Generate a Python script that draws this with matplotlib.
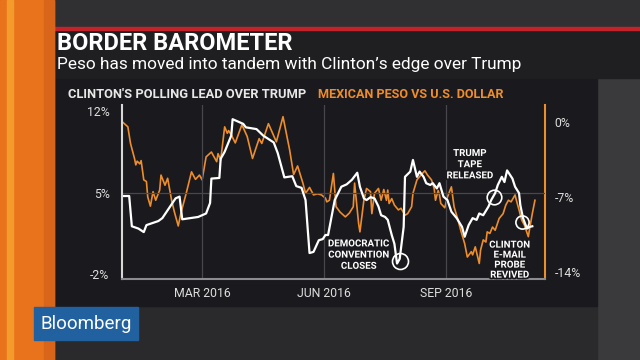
import pandas as pd
from matplotlib import pyplot as plt
from matplotlib import font_manager
from matplotlib import patheffects
from matplotlib.patches import Rectangle

poll_dates = ['2016-01-01', '2016-01-06', '2016-01-08', '2016-01-13', '2016-01-17', '2016-01-19',
              '2016-01-28', '2016-01-31', '2016-02-10', '2016-02-13', '2016-02-15', '2016-02-27',
              '2016-03-04', '2016-03-07', '2016-03-08', '2016-03-14', '2016-03-15', '2016-03-18',
              '2016-03-23', '2016-03-24', '2016-04-01', '2016-04-03', '2016-04-11', '2016-04-16',
              '2016-04-24', '2016-04-27', '2016-05-02', '2016-05-08', '2016-05-11', '2016-05-15',
              '2016-05-18', '2016-05-21', '2016-05-24', '2016-05-28', '2016-05-31', '2016-06-02',
              '2016-06-04', '2016-06-09', '2016-06-14', '2016-06-18', '2016-06-22', '2016-06-26',
              '2016-06-28', '2016-07-01', '2016-07-03', '2016-07-06', '2016-07-09', '2016-07-12',
              '2016-07-14', '2016-07-17', '2016-07-19', '2016-07-22', '2016-07-24', '2016-07-26',
              '2016-07-28', '2016-07-31', '2016-08-01', '2016-08-05', '2016-08-07', '2016-08-10',
              '2016-08-12', '2016-08-15', '2016-08-17', '2016-08-20', '2016-08-22', '2016-08-25',
              '2016-08-27', '2016-08-30', '2016-09-02', '2016-09-05', '2016-09-09', '2016-09-13',
              '2016-09-15', '2016-09-18', '2016-09-21', '2016-09-24', '2016-09-26', '2016-09-29',
              '2016-10-03', '2016-10-05', '2016-10-08', '2016-10-10', '2016-10-13', '2016-10-15',
              '2016-10-17', '2016-10-21', '2016-10-23', '2016-10-26', '2016-10-27', '2016-10-29',
              '2016-11-01', '2016-11-03', '2016-11-05']
poll_lead = [4.7, 4.7, 2.1, 1.9, 1.6, 2.2,
             2.55, 2.8, 4.5, 4.65, 2.7, 2.9,
             3.2, 4.1, 6.2, 6.25, 7.9, 8.5,
             9.9, 11.3, 10.9, 10.6, 10.45, 9.9,
             9.3, 8.4, 6.3, 6.4, 5.55, 5.4,
             4.35, -0.2, -0.1, 0.9, 1.0, 1.35,
             1.35, 4.35, 5.5, 5.7, 6.1, 6.7,
             5.5, 4.5, 4.35, 4.6, 4.5, 3.8,
             3.05, 2.9, 2.65, 1.35, 0.6, -1.1,
             -0.7, 2.05, 6.35, 6.8, 7.8, 6.35,
             6.8, 6.35, 5.8, 5.65, 5.8, 5.35,
             5.8, 4.65, 4.35, 3.35, 2.8, 2.05,
             1.2, 2.2, 2.8, 2.65, 3.2, 3.05,
             3.8, 4.35, 4.95, 5.65, 6.35, 5.9,
             6.9, 6.2, 5.5, 4.95, 3.9, 2.8,
             1.9, 2.05, 2.1]

peso_dates = ['2016-01-01', '2016-01-05', '2016-01-07', '2016-01-10', '2016-01-11', '2016-01-12',
              '2016-01-14', '2016-01-15', '2016-01-17', '2016-01-19', '2016-01-20', '2016-01-22',
              '2016-01-24', '2016-01-26', '2016-01-29', '2016-01-30', '2016-02-02', '2016-02-04',
              '2016-02-07', '2016-02-09', '2016-02-12', '2016-02-14', '2016-02-18', '2016-02-22',
              '2016-02-25', '2016-02-28', '2016-03-01', '2016-03-04', '2016-03-08', '2016-03-10',
              '2016-03-12', '2016-03-13', '2016-03-15', '2016-03-18', '2016-03-20', '2016-03-21',
              '2016-03-23', '2016-03-26', '2016-03-31', '2016-04-04', '2016-04-08', '2016-04-13',
              '2016-04-15', '2016-04-20', '2016-04-26', '2016-05-01', '2016-05-06', '2016-05-09',
              '2016-05-12', '2016-05-16', '2016-05-18', '2016-05-21', '2016-05-24', '2016-05-27',
              '2016-05-30', '2016-06-02', '2016-06-03', '2016-06-05', '2016-06-08', '2016-06-10',
              '2016-06-13', '2016-06-17', '2016-06-20', '2016-06-23', '2016-06-24', '2016-06-27',
              '2016-06-28', '2016-07-01', '2016-07-03', '2016-07-06', '2016-07-07', '2016-07-09',
              '2016-07-12', '2016-07-14', '2016-07-16', '2016-07-18', '2016-07-19', '2016-07-20',
              '2016-07-22', '2016-07-24', '2016-07-27', '2016-07-29', '2016-08-01', '2016-08-03',
              '2016-08-06', '2016-08-07', '2016-08-10', '2016-08-13', '2016-08-16', '2016-08-18',
              '2016-08-21', '2016-08-23', '2016-08-24', '2016-08-26', '2016-08-27', '2016-08-28',
              '2016-08-31', '2016-09-02', '2016-09-05', '2016-09-07', '2016-09-10', '2016-09-12',
              '2016-09-15', '2016-09-17', '2016-09-20', '2016-09-21', '2016-09-23', '2016-09-26',
              '2016-09-27', '2016-09-29', '2016-10-01', '2016-10-02', '2016-10-04', '2016-10-06',
              '2016-10-08', '2016-10-11', '2016-10-14', '2016-10-16', '2016-10-18', '2016-10-20',
              '2016-10-23', '2016-10-24', '2016-10-26', '2016-10-28', '2016-10-30', '2016-11-02',
              '2016-11-03', '2016-11-05', '2016-11-07']
peso_change = [0.0, -0.45, -2.0, -3.4, -4.0, -3.65,
               -3.9, -3.6, -5.4, -5.55, -7.0, -7.85,
               -6.5, -7.3, -6.35, -4.95, -5.9, -5.25,
               -7.3, -8.35, -9.7, -8.5, -6.65, -4.65,
               -5.35, -4.95, -5.4, -3.25, -2.8, -3.25,
               -3.7, -2.95, -3.55, -0.45, -1.05, -0.8,
               -1.2, -1.95, -0.25, -1.35, -3.4, -1.55,
               -2.0, -0.15, -1.85, 0.5, -2.6, -4.9,
               -4.1, -5.7, -6.65, -6.1, -6.8, -6.7,
               -6.8, -7.1, -7.45, -7.3, -4.8, -7.9,
               -8.4, -8.85, -8.5, -7.9, -5.7, -9.45,
               -10.25, -7.3, -6.2, -6.5, -8.55, -6.65,
               -6.2, -7.3, -6.3, -7.3, -6.35, -7.6,
               -7.15, -7.75, -8.2, -8.05, -8.7, -8.55,
               -7.9, -6.65, -5.4, -4.95, -4.55, -4.95,
               -5.4, -6.2, -7.3, -6.4, -6.8, -7.6,
               -8.0, -7.0, -6.05, -7.9, -9.15, -10.1,
               -11.35, -12.6, -12.1, -12.4, -11.65, -13.2,
               -11.95, -11.0, -11.2, -10.25, -10.4, -9.8,
               -10.1, -9.0, -8.55, -7.75, -7.3, -7.45,
               -6.8, -7.3, -8.2, -9.15, -9.6, -10.7,
               -9.95, -8.55, -7.3]

event_labels = ['DEMOCRATIC\nCONVENTION\nCLOSES', 'TRUMP\nTAPE\nRELEASED', 'CLINTON\nE-MAIL\nPROBE\nREVIVED']
event_dates = ['2016-07-28', '2016-10-07', '2016-10-28']
event_values = [-0.85, 4.6, 2.5]

left_ticks = [-2, 5, 12]
right_ticks = [-14, -7, 0]
month_ticks = ['2016-03-01', '2016-06-01', '2016-09-01']
month_labels = ['MAR 2016', 'JUN 2016', 'SEP 2016']

# layout of the annotation texts, pixels from the circle centre
label_offsets = [(-41, 6), (-24, 33), (-12, -38)]
circle_sizes = [11.5, 10.5, 9.5]
label_spacing = [1.15, 1.15, 1.0]


def pick_font(names):
    for name in names:
        try:
            font_manager.findfont(font_manager.FontProperties(family=name), fallback_to_default=False)
            return name
        except ValueError:
            pass
    return 'DejaVu Sans'


main_font = pick_font(['Roboto', 'Liberation Sans', 'DejaVu Sans'])
narrow_font = pick_font(['Liberation Sans Narrow', 'Roboto', 'DejaVu Sans'])
plt.rcParams['font.family'] = main_font

orange = '#ee8d2c'
panel = '#1a1a1e'

fig = plt.figure(figsize=(6.4, 3.6), dpi=100)
fig.patch.set_facecolor('#2b2b2d')

bg = fig.add_axes([0, 0, 1, 1], zorder=-5)
bg.set_xlim(0, 640)
bg.set_ylim(360, 0)
bg.axis('off')
bg.add_patch(Rectangle((54, 0), 586, 28, color='#303032'))
bg.add_patch(Rectangle((597, 78), 43, 282, color='#3a3a3c'))
bg.add_patch(Rectangle((54, 306), 543, 54, color='#2a2a2c'))
bg.add_patch(Rectangle((54, 30), 586, 48, color='#1f1f22'))
bg.add_patch(Rectangle((54, 79), 543, 227, color=panel))
bg.add_patch(Rectangle((54, 27), 586, 3, color='#c4222b'))
bg.add_patch(Rectangle((0, 0), 54, 360, color='#e8731c'))
bg.add_patch(Rectangle((7, 0), 6, 360, color='#f39c2c'))
bg.add_patch(Rectangle((44, 0), 10, 360, color='#d9651a'))
bg.add_patch(Rectangle((34, 307), 104, 33, color='#21619f'))
bg.text(86, 324, 'Bloomberg', color='white', fontsize=13.5, ha='center', va='center')

bg.text(57, 44, 'BORDER BAROMETER', color='white', fontsize=17, fontweight='bold', va='center')
bg.text(57, 65, "Peso has moved into tandem with Clinton\u2019s edge over Trump", color='white',
        fontsize=12.4, va='center')
bg.text(68, 95, "CLINTON'S POLLING LEAD OVER TRUMP", color='#e8e8e8', fontsize=9.3,
        fontweight='bold', family=narrow_font, va='center')
bg.text(318, 95, 'MEXICAN PESO VS U.S. DOLLAR', color=orange, fontsize=9.1,
        fontweight='bold', family=narrow_font, va='center')

ax = fig.add_axes([122 / 640, 1 - 279 / 360, 423 / 640, 174 / 360])
ax2 = ax.twinx()
ax.set_zorder(ax2.get_zorder() + 1)
ax.patch.set_visible(False)

ax2.plot(pd.to_datetime(peso_dates), peso_change, color=orange, lw=1.2)
ax.plot(pd.to_datetime(poll_dates), poll_lead, color='white', lw=1.6)

ax.set_xlim(pd.Timestamp('2015-12-31 14:00'), pd.Timestamp('2016-11-14 14:00'))
ax.set_ylim(-2.43, 12.52)
ax2.set_ylim(-14.65, 1.59)

ax.set_yticks(left_ticks)
ax.set_yticklabels(['%d%%' % t for t in left_ticks])
ax2.set_yticks(right_ticks)
ax2.set_yticklabels(['%d%%' % t for t in right_ticks])
ax.set_xticks(pd.to_datetime(month_ticks))
ax.set_xticklabels(month_labels)

ax.tick_params(axis='both', length=0, colors='#dedede', labelsize=8.8)
ax.tick_params(axis='y', pad=9)
ax.tick_params(axis='x', pad=6)
ax2.tick_params(axis='y', length=0, colors='#dedede', labelsize=8.8, pad=7)

for t in pd.to_datetime(month_ticks):
    ax.axvline(t, color='#48484c', lw=0.9, zorder=0)
ax.axhline(5, color='#48484c', lw=0.9, zorder=0)

for a in (ax, ax2):
    a.spines['top'].set_visible(False)
    a.spines['left'].set_visible(False)
    a.spines['right'].set_visible(False)
    a.spines['bottom'].set_visible(False)
ax.spines['left'].set_visible(True)
ax.spines['left'].set_color('#d8d8d8')
ax.spines['left'].set_linewidth(1.5)
ax.spines['bottom'].set_visible(True)
ax.spines['bottom'].set_color('#8c8c90')
ax.spines['bottom'].set_linewidth(1.5)
ax2.spines['right'].set_visible(True)
ax2.spines['right'].set_color(orange)
ax2.spines['right'].set_linewidth(1.5)

halo = [patheffects.withStroke(linewidth=2.5, foreground=panel)]
for i, label in enumerate(event_labels):
    d = pd.Timestamp(event_dates[i])
    ax.plot([d], [event_values[i]], marker='o', ms=circle_sizes[i], mfc='none', mec='white', mew=1.2)
    ax.annotate(label, (d, event_values[i]), xytext=label_offsets[i], textcoords='offset pixels',
                ha='center', va='center', color='white', fontsize=7, fontweight='bold',
                linespacing=label_spacing[i], path_effects=halo)

fig.savefig('out.png', dpi=100, facecolor=fig.get_facecolor())
